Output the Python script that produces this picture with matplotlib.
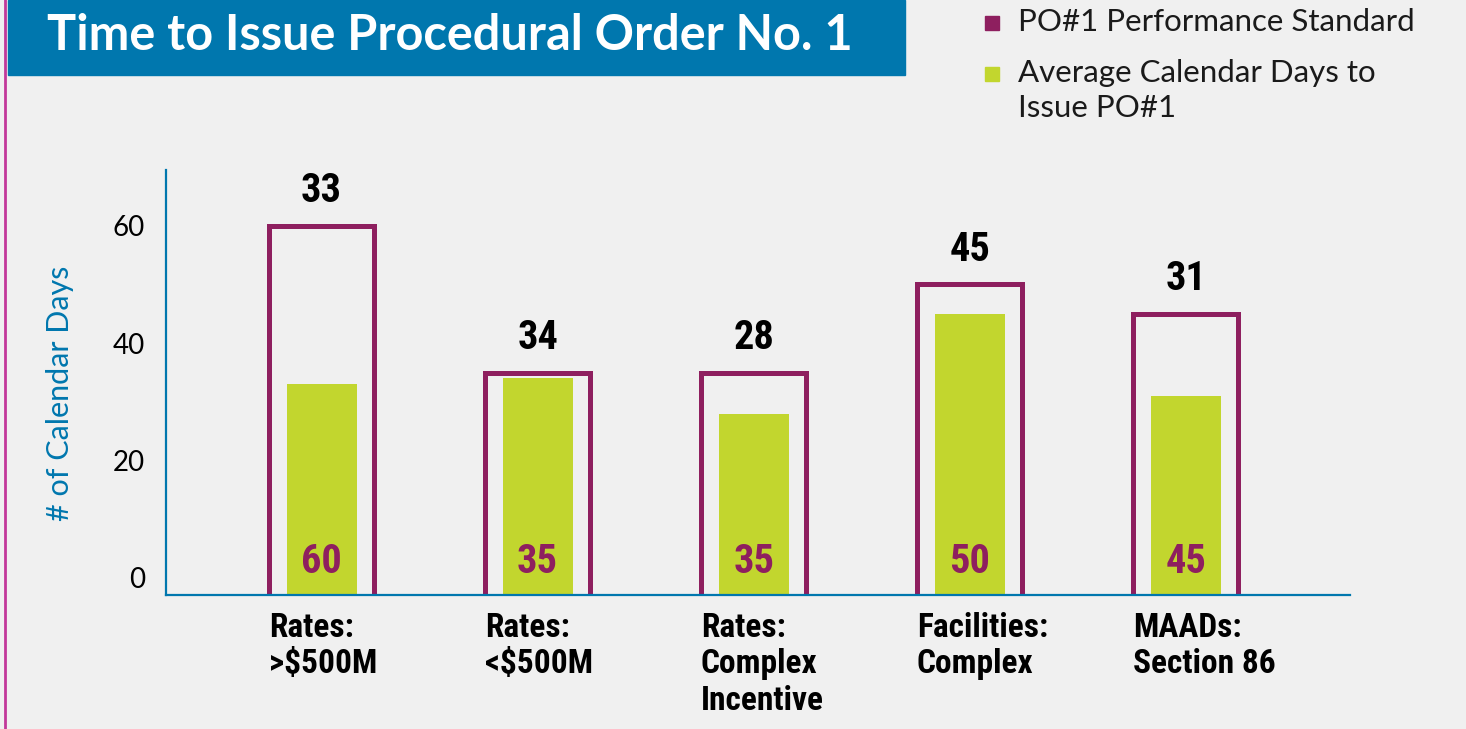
from matplotlib import pyplot as plt
from matplotlib.patches import Rectangle
from matplotlib.lines import Line2D
import matplotlib.transforms as mtransforms

# data
categories = ['Rates:\n>$500M', 'Rates:\n<$500M', 'Rates:\nComplex\nIncentive',
              'Facilities:\nComplex', 'MAADs:\nSection 86']
standard = [60, 35, 35, 50, 45]      # PO#1 performance standard
avg_days = [33, 34, 28, 45, 31]      # average calendar days to issue PO#1
yticks = [0, 20, 40, 60]
legend_labels = ['PO#1 Performance Standard', 'Average Calendar Days to\nIssue PO#1']

BLUE = '#0077ae'
MAGENTA = '#8e1f5f'
GREEN = '#c2d62e'
BG = '#f0f0f0'
COND = ['Roboto Condensed', 'DejaVu Sans']

W, H = 1466, 729
fig = plt.figure(figsize=(W / 100, H / 100), dpi=100, facecolor=BG)

# left border line
fig.add_artist(Line2D([5 / W, 5 / W], [0, 1], color='#c2389a', lw=2, transform=fig.transFigure))

# title banner
fig.patches.append(Rectangle((8 / W, 1 - 75 / H), (905 - 8) / W, 75 / H,
                             transform=fig.transFigure, color=BLUE, zorder=0))
fig.text(47 / W, 1 - 35 / H, 'Time to Issue Procedural Order No. 1', color='white',
         fontsize=35, fontweight='bold', family='Lato', va='center', ha='left')

# legend drawn by hand
leg_colors = [MAGENTA, GREEN]
leg_y = [23, 74]
for lab, col, yy in zip(legend_labels, leg_colors, leg_y):
    fig.patches.append(Rectangle((985 / W, 1 - (yy + 7) / H), 14 / W, 14 / H,
                                 transform=fig.transFigure, color=col))
    fig.text(1018 / W, 1 - (yy - 15) / H, lab, fontsize=22.5, family='Lato',
             color='#1a1a1a', va='top', ha='left', linespacing=1.3)

# axes
ax = fig.add_axes([166 / W, 1 - 595 / H, (1350 - 166) / W, (595 - 170) / H])
ax.set_facecolor('none')
ymin, ymax = -2.9, 69.5
ax.set_ylim(ymin, ymax)
ax.set_xlim(-0.72, 4.76)
for s in ['top', 'right']:
    ax.spines[s].set_visible(False)
for s in ['left', 'bottom']:
    ax.spines[s].set_color(BLUE)
    ax.spines[s].set_linewidth(1.6)
ax.set_yticks(yticks)
ax.set_xticks([])
ax.tick_params(axis='y', length=0, pad=15, labelsize=20)
for t in ax.get_yticklabels():
    t.set_family('Lato')

x = list(range(len(categories)))
ax.bar(x, [v + 10 for v in avg_days], bottom=-10, width=0.324, color=GREEN, zorder=1)
ax.bar(x, [v + 10 for v in standard], bottom=-10, width=0.486, fill=False,
       edgecolor=MAGENTA, linewidth=3.6, zorder=2)

trans = mtransforms.blended_transform_factory(ax.transData, ax.transAxes)
for xi, s, a, lab in zip(x, standard, avg_days, categories):
    ax.annotate(str(a), (xi, s), xytext=(0, 17), textcoords='offset points',
                ha='center', va='baseline', fontsize=29, fontweight='bold',
                family=COND, stretch='condensed', color='black')
    ax.text(xi, 0.052, str(s), transform=trans, ha='center', va='baseline',
            fontsize=29, fontweight='bold', family=COND, stretch='condensed',
            color=MAGENTA)
    ax.text(xi - 0.245, -0.04, lab, transform=trans, ha='left', va='top',
            fontsize=24, fontweight='bold', family=COND, stretch='condensed',
            color='black', linespacing=1.17, clip_on=False)

fig.text(60 / W, 1 - 393 / H, '# of Calendar Days', rotation=90, color=BLUE,
         fontsize=22, family='Lato', ha='center', va='center')

plt.savefig('out.png', dpi=100, facecolor=BG)
